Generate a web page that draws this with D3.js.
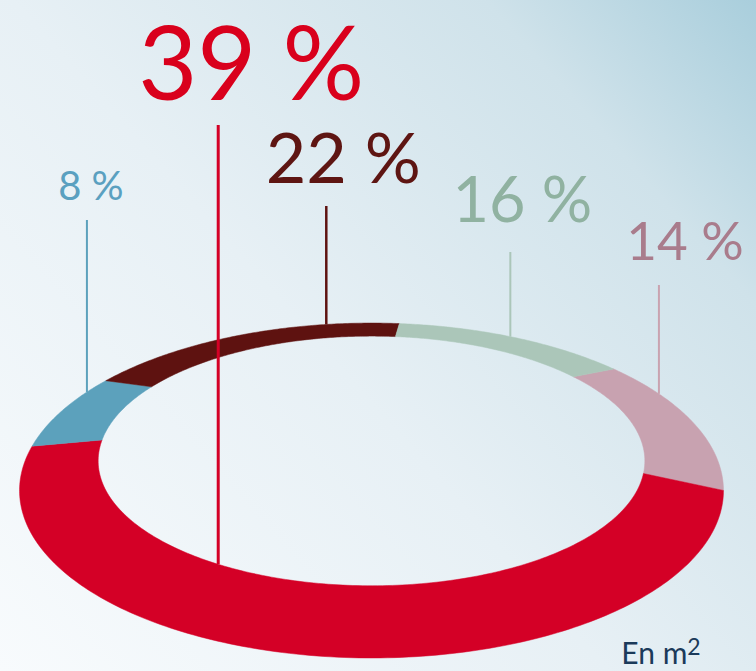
<!DOCTYPE html>
<html><head><meta charset="utf-8">
<script src="https://cdn.jsdelivr.net/npm/d3@7"></script>
<style>html,body{margin:0;padding:0;background:#fff}svg{display:block}</style>
</head><body>
<script>
// ---- data ----
const categories = ["seg14", "seg39", "seg8", "seg22", "seg16"];
const values = [14, 39, 8, 22, 16];
const labels = ["14 %", "39 %", "8 %", "22 %", "16 %"];
const unitLabel = "En m";

// ---- style / layout ----
const W = 756, H = 671;
const fillColors = ["#c8a2b0", "#d40026", "#5ca1bc", "#5e1210", "#abc6b9"];
const textColors = ["#a97c8c", "#d9001c", "#5aa0c0", "#5e1512", "#90b2a1"];
const lineColors = ["#c9a3b0", "#d40026", "#5ca1bc", "#5e1210", "#abc6b9"];
const lineWidths = [2, 3, 2, 2.5, 2];
const fontSizes = [53, 102, 40, 70, 63];
const anchorFrac = [0.28, 0.616, 0.79, 0.76, 0.505];
const lineTop = [285, 125, 220, 206, 252];
const textBase = [260, 100, 200, 183, 222];
const textDx = [26, 33, 4, 17, 12];

// perspective projection of a flat ring
const P = {cx: 371.5, E: 416, A: 315.2, B: 134.3, g: 0.445, rOuter: 1, rInner: 0.809};
function proj(phi, rho) {
  const X = rho * Math.cos(phi), Z = rho * Math.sin(phi);
  const w = 1 - P.g * Z;
  return [P.cx + P.A * X / w, P.E + P.B * Z / w];
}

const svg = d3.select("body").append("svg").attr("width", W).attr("height", H);
const defs = svg.append("defs");
const grad = defs.append("linearGradient").attr("id", "bg")
  .attr("gradientUnits", "userSpaceOnUse")
  .attr("x1", 0).attr("y1", H).attr("x2", W).attr("y2", 0);
grad.append("stop").attr("offset", 0).attr("stop-color", "#f8fbfd");
grad.append("stop").attr("offset", 0.45).attr("stop-color", "#e7f0f5");
grad.append("stop").attr("offset", 0.8).attr("stop-color", "#cfe2ea");
grad.append("stop").attr("offset", 1).attr("stop-color", "#a9cedc");
svg.append("rect").attr("width", W).attr("height", H).attr("fill", "url(#bg)");

const phi0 = -24.5 * Math.PI / 180;
const pie = d3.pie().sort(null).value(d => d).startAngle(phi0).endAngle(phi0 + 2 * Math.PI);
const arcs = pie(values);
const line = d3.line();

function segPath(a) {
  const n = Math.max(12, Math.ceil((a.endAngle - a.startAngle) * 80));
  const pts = [];
  for (let i = 0; i <= n; i++) pts.push(proj(a.startAngle + (a.endAngle - a.startAngle) * i / n, P.rOuter));
  for (let i = n; i >= 0; i--) pts.push(proj(a.startAngle + (a.endAngle - a.startAngle) * i / n, P.rInner));
  return line(pts) + "Z";
}

svg.append("g").selectAll("path").data(arcs).join("path")
  .attr("d", segPath)
  .attr("fill", (d, i) => fillColors[i])
  .attr("stroke", (d, i) => fillColors[i])
  .attr("stroke-width", 0.5);

// leader lines and labels
const g = svg.append("g");
arcs.forEach((a, i) => {
  const phi = a.startAngle + (a.endAngle - a.startAngle) * anchorFrac[i];
  const rho = Math.sin(phi) > 0 ? P.rInner : P.rOuter;
  const [x, y] = proj(phi, rho);
  g.append("line").attr("x1", x).attr("x2", x).attr("y1", y).attr("y2", lineTop[i])
    .attr("stroke", lineColors[i]).attr("stroke-width", lineWidths[i]);
  g.append("text").attr("x", x + textDx[i]).attr("y", textBase[i])
    .attr("text-anchor", "middle")
    .attr("font-family", "Lato, 'Open Sans', sans-serif")
    .attr("font-size", fontSizes[i])
    .attr("fill", textColors[i])
    .text(labels[i]);
});

const unit = svg.append("text").attr("x", 661).attr("y", 664).attr("text-anchor", "middle")
  .attr("font-family", "Lato, 'Open Sans', sans-serif").attr("font-size", 30)
  .attr("fill", "#1b3a5a");
unit.append("tspan").text(unitLabel);
unit.append("tspan").attr("font-size", 23).attr("dy", -9).text("2");
</script>
</body></html>
